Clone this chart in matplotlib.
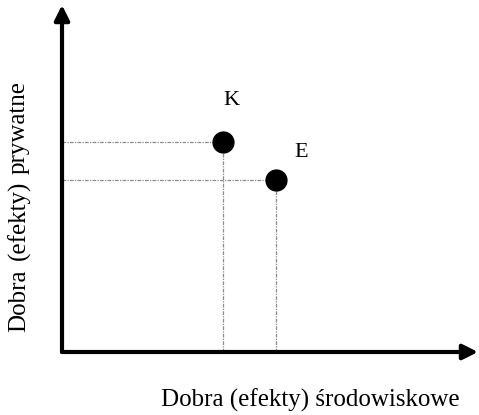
import matplotlib.pyplot as plt

plt.rcParams['font.family'] = ['Liberation Serif', 'DejaVu Serif']

# point labels and their positions (arbitrary units, axis runs 0..10)
labels = ['K', 'E']
x_vals = [3.87, 5.14]
y_vals = [6.05, 4.96]

x_label = 'Dobra (efekty) środowiskowe'
y_words = ['Dobra', '(efekty)', 'prywatne']

fig = plt.figure(figsize=(4.79, 4.15), dpi=100)
ax = fig.add_axes([62 / 479, 63 / 415, 416 / 479, 347 / 415])
ax.set_xlim(0, 10)
ax.set_ylim(0, 10)
ax.axis('off')

# axes with arrow heads
arrow = dict(arrowstyle='-|>,head_length=0.9,head_width=0.45', color='black',
             lw=3, shrinkA=0, shrinkB=0)
ax.annotate('', xy=(10, 0), xytext=(0, 0), arrowprops=arrow, annotation_clip=False)
ax.annotate('', xy=(0, 10), xytext=(0, 0), arrowprops=arrow, annotation_clip=False)

# dotted guide lines
for x, y in zip(x_vals, y_vals):
    ax.plot([0, x], [y, y], color='#8c8c8c', lw=0.9, ls=(0, (3, 1, 1, 1)), zorder=1)
    ax.plot([x, x], [0, y], color='#8c8c8c', lw=0.9, ls=(0, (3, 1, 1, 1)), zorder=1)

ax.scatter(x_vals, y_vals, s=225, color='black', zorder=3, clip_on=False)

ax.text(x_vals[0] + 0.2, y_vals[0] + 1.2, labels[0], fontsize=16, ha='center', va='center')
ax.text(x_vals[1] + 0.6, y_vals[1] + 0.8, labels[1], fontsize=16, ha='center', va='center')

fig.text(310 / 479, 1 - 400 / 415, x_label, fontsize=18, ha='center', va='center')

# y label is letter-spaced in the original, so the words sit a bit apart
for word, ypix in zip(y_words, [301, 220, 127]):
    fig.text(19 / 479, 1 - ypix / 415, word, fontsize=18,
             ha='center', va='center', rotation=90)

fig.savefig('out.png', dpi=100)
